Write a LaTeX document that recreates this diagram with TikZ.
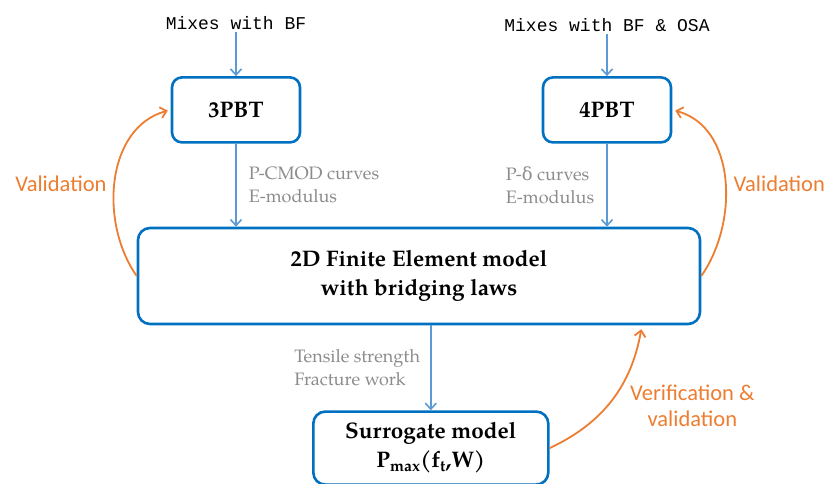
\documentclass[tikz,border=0pt]{standalone}
\usepackage{fontspec}
\setmainfont{TeX Gyre Pagella}
\newfontfamily\monofam{Liberation Mono}
\newfontfamily\lblfam{Carlito}
\newfontfamily\grkfam{DejaVu Serif}
\usetikzlibrary{positioning,arrows.meta,calc}
\definecolor{boxblue}{HTML}{0070C0}
\definecolor{arrblue}{HTML}{5B9BD5}
\definecolor{valorange}{HTML}{ED7D31}
\definecolor{lblgray}{HTML}{8C8C8C}
\tikzset{
  testbox/.style={rectangle, rounded corners=10pt, draw=boxblue, line width=2.6pt, fill=white,
                  align=center, minimum width=128pt, minimum height=65pt,
                  font=\fontsize{22.5}{26}\selectfont\bfseries},
  modelbox/.style={rectangle, rounded corners=12pt, draw=boxblue, line width=2.6pt, fill=white,
                   align=center, font=\fontsize{22.5}{29}\selectfont\bfseries},
  mixtxt/.style={inner sep=2pt, font=\fontsize{18}{20}\selectfont\monofam},
  datalbl/.style={align=left, text=lblgray, inner sep=2pt, font=\fontsize{18}{23}\selectfont},
  vallbl/.style={align=center, text=valorange, inner sep=2pt, font=\fontsize{22.5}{26}\selectfont\lblfam},
  flowarr/.style={-{Straight Barb[length=6pt,width=11pt]}, line width=1.6pt, draw=arrblue},
  valarr/.style={-{Straight Barb[length=6pt,width=11pt]}, line width=1.8pt, draw=valorange},
}

\begin{document}
\begin{tikzpicture}[x=1pt, y=1pt]
\useasboundingbox (0,0) rectangle (825,-484);
\node[modelbox, minimum width=562pt, minimum height=96pt] (fem) at (419,-276)
  {2D Finite Element model\\ with bridging laws};
\node[testbox, above right=83pt and 34pt of fem.north west] (tpb3) {3PBT};
\node[testbox, above left=83pt and 29pt of fem.north east] (tpb4) {4PBT};
\node[modelbox, minimum width=235pt, minimum height=73pt, anchor=north west,
      below right=85pt and -107pt of fem.south] (sur)
  {Surrogate model\\ P\textsubscript{max}(f\textsubscript{t},W)};
\node[mixtxt, above=44pt of tpb3.north] (mix1) {Mixes with BF};
\node[mixtxt, above=42pt of tpb4.north] (mix2) {Mixes with BF \& OSA};
\coordinate (vtip) at ([xshift=223pt]fem.south);

\draw[flowarr] (mix1) -- (tpb3);
\draw[flowarr] (mix2) -- (tpb4);
\draw[flowarr] (tpb3) -- (tpb3.south |- fem.north)
  node[midway, right=10pt, datalbl] {P-CMOD curves\\ E-modulus};
\draw[flowarr] (tpb4) -- (tpb4.south |- fem.north)
  node[midway, left=10pt, datalbl] {P-{\grkfam δ} curves\\ E-modulus};
\draw[flowarr] (sur.north |- fem.south) -- (sur.north)
  node[midway, left=8pt, datalbl] {Tensile strength\\ Fracture work};

\draw[valarr, shorten >=3pt] (fem.west) to[out=125, in=195]
  node[pos=0.5, left=6pt, yshift=-5pt, vallbl] {Validation} (tpb3.west);
\draw[valarr, shorten >=3pt] (fem.east) to[out=55, in=-15]
  node[pos=0.5, right=6pt, yshift=-5pt, vallbl] {Validation} (tpb4.east);
\draw[valarr, shorten >=4pt] (sur.east) to[out=25, in=-100]
  node[pos=0.5, right=15pt, yshift=-6pt, vallbl] {Verification \&\\ validation} (vtip);
\end{tikzpicture}
\end{document}
